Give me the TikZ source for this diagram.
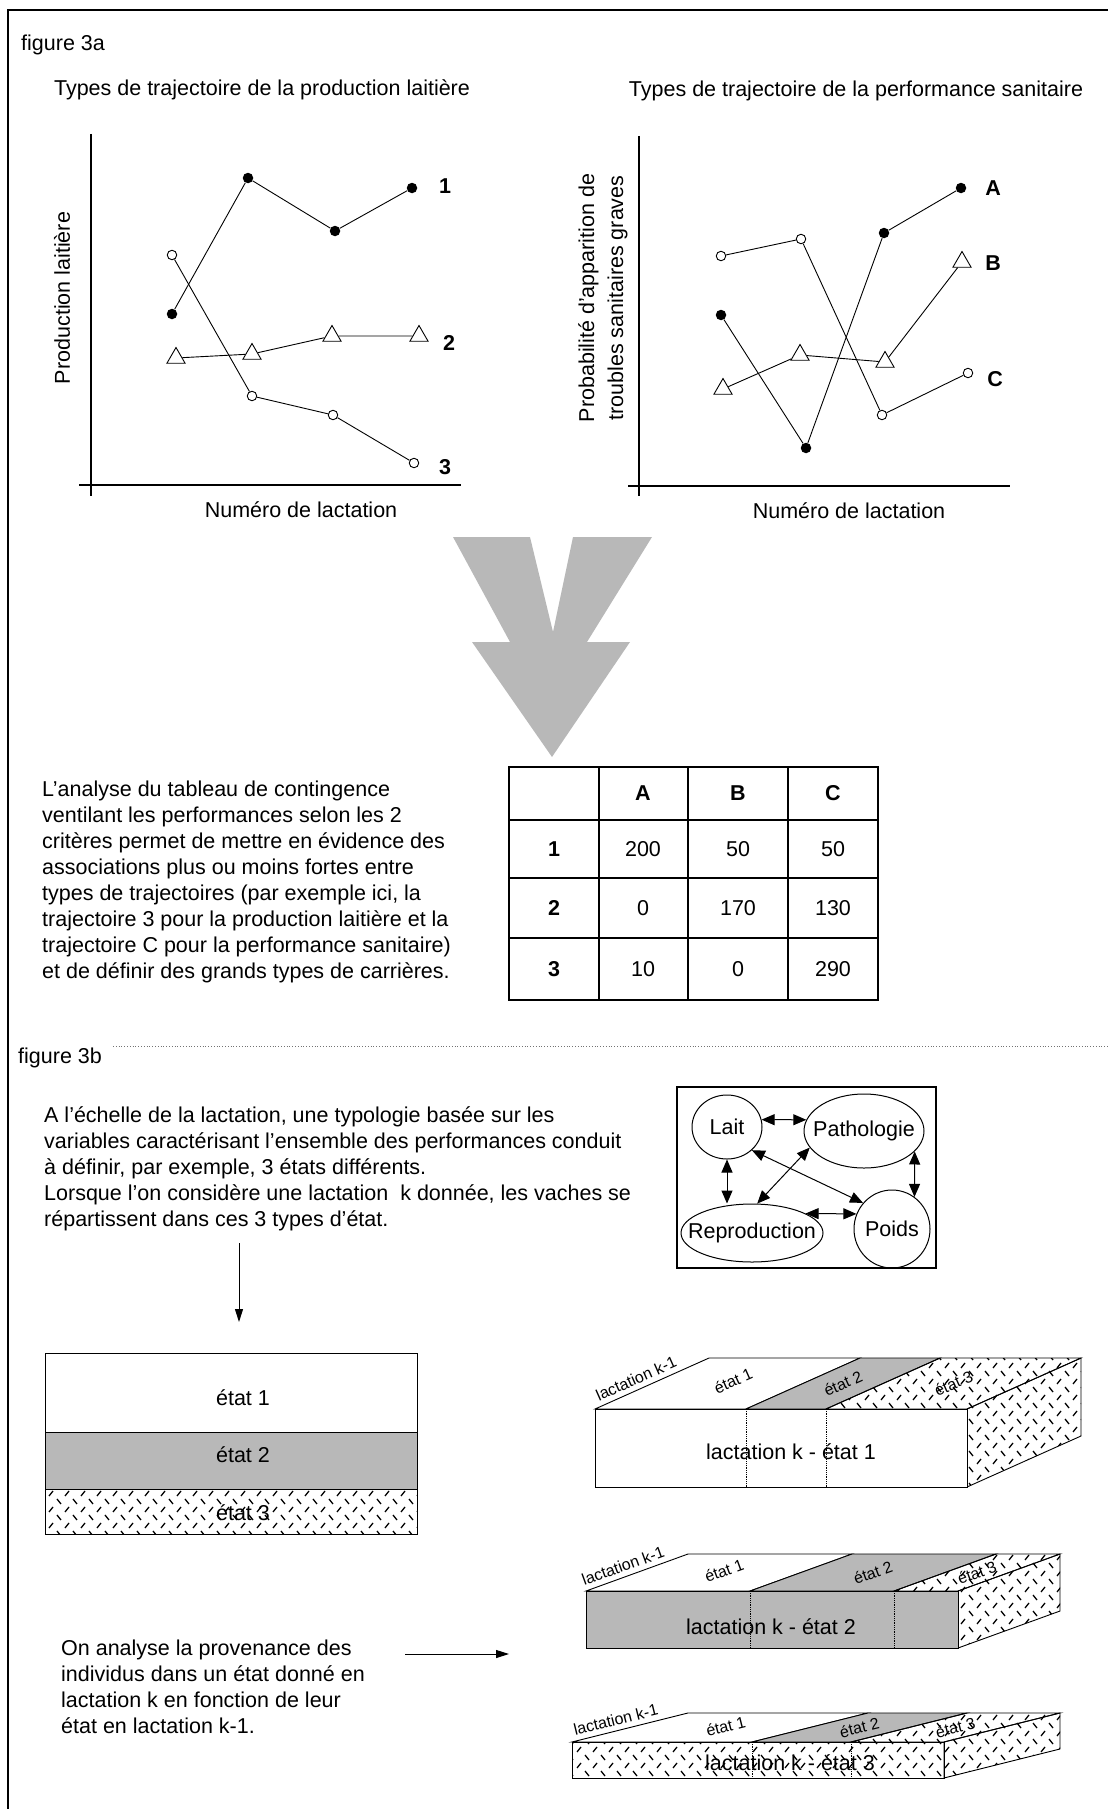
\documentclass[tikz,border=0pt]{standalone}
\usepackage{fontspec}
\setmainfont{Liberation Sans}
\usetikzlibrary{arrows.meta,shapes.geometric,patterns}
\definecolor{halftone}{gray}{0.72}
\newcommand{\bodyfont}{\fontsize{21.5}{26}\selectfont}
\newcommand{\smallfont}{\fontsize{16}{19}\selectfont}
\pgfdeclarepatternformonly{etathatch}{\pgfpoint{-1pt}{-1pt}}{\pgfpoint{17pt}{17pt}}{\pgfpoint{16pt}{16pt}}{%
  \pgfsetlinewidth{1.3pt}%
  \pgfpathmoveto{\pgfpoint{1pt}{9pt}}\pgfpathlineto{\pgfpoint{5pt}{14pt}}%
  \pgfpathmoveto{\pgfpoint{9pt}{6pt}}\pgfpathlineto{\pgfpoint{13pt}{1pt}}%
  \pgfusepath{stroke}}

\begin{document}
\begin{tikzpicture}[x=1pt,y=-1pt,font=\bodyfont,
    frame/.style={line width=1.4pt},
    axis/.style={line width=1.1pt},
    trace/.style={line width=0.9pt},
    fdot/.style={circle,fill=black,inner sep=0pt,minimum size=10.5pt},
    odot/.style={circle,draw,fill=white,line width=0.9pt,inner sep=0pt,minimum size=9.5pt},
    tri/.style={regular polygon,regular polygon sides=3,draw,fill=white,line width=0.9pt,inner sep=0pt,minimum size=21pt},
    tag/.style={font=\bodyfont\bfseries},
    para/.style={anchor=west,align=left,inner sep=0pt},
    bubble/.style={ellipse,draw,line width=1pt,inner sep=0pt},
    dbl/.style={{Triangle[length=13pt,width=11pt]}-{Triangle[length=13pt,width=11pt]},line width=1pt},
    arr/.style={-{Triangle[length=13pt,width=8pt]},line width=1pt},
    tabline/.style={line width=1.4pt},
    etat1/.style={fill=white},
    etat2/.style={fill=halftone},
    etat3/.style={pattern=etathatch},
    toplab/.style={font=\smallfont,inner sep=1pt}]
  \useasboundingbox (0,0) rectangle (1108,1809);
  \draw[frame] (8,1809) -- (8,10) -- (1108,10);

  % figure 3a
  \node[para] (fig3a) at (21,45) {figure 3a};
  \node (titlelait) at (262,90) {Types de trajectoire de la production laitière};
  \node (titlesan) at (856,91) {Types de trajectoire de la performance sanitaire};

  % milk yield trajectories
  \draw[axis] (91,134) -- (91,496);
  \draw[axis] (79,485) -- (461,485);
  \node[rotate=90] (ylait) at (62,298) {Production laitière};
  \node (xlait) at (301,510) {Numéro de lactation};
  \foreach \n/\x/\y in {la/172/314,lb/248/178,lc/335/231,ld/412/188}
    \node[fdot] (\n) at (\x,\y) {};
  \foreach \n/\x/\y in {ma/176/358,mb/252/354,mc/332/336,md/419/336}
    \node[tri] (\n) at (\x,\y) {};
  \foreach \n/\x/\y in {na/172/255,nb/252/396,nc/333/415,nd/414/463}
    \node[odot] (\n) at (\x,\y) {};
  \draw[trace] (la) -- (lb) -- (lc) -- (ld);
  \draw[trace] (ma) -- (mb) -- (mc) -- (md);
  \draw[trace] (na) -- (nb) -- (nc) -- (nd);
  \node[tag] (t1) at (445,186) {1};
  \node[tag] (t2) at (449,343) {2};
  \node[tag] (t3) at (445,467) {3};

  % health trajectories
  \draw[axis] (639,136) -- (639,496);
  \draw[axis] (628,486) -- (1010,486);
  \node[rotate=90,align=center,font=\fontsize{21.5}{29}\selectfont] (ysan) at (603,298)
    {Probabilité d'apparition de\\troubles sanitaires graves};
  \node (xsan) at (849,511) {Numéro de lactation};
  \foreach \n/\x/\y in {sa/721/315,sb/806/448,sc/884/233,sd/961/188}
    \node[fdot] (\n) at (\x,\y) {};
  \foreach \n/\x/\y in {ua/723/389,ub/800/355,uc/885/362,ud/962/262}
    \node[tri] (\n) at (\x,\y) {};
  \foreach \n/\x/\y in {va/721/256,vb/801/239,vc/882/415,vd/968/373}
    \node[odot] (\n) at (\x,\y) {};
  \draw[trace] (sa) -- (sb) -- (sc) -- (sd);
  \draw[trace] (ua) -- (ub) -- (uc) -- (ud);
  \draw[trace] (va) -- (vb) -- (vc) -- (vd);
  \node[tag] (tA) at (993,188) {A};
  \node[tag] (tB) at (993,263) {B};
  \node[tag] (tC) at (995,379) {C};

  % big arrow
  \fill[halftone] (453,537) -- (530,537) -- (553,632) -- (573,537) -- (652,537)
    -- (587,642) -- (630,642) -- (552,757) -- (472,642) -- (510,642) -- cycle;

  % contingency table
  \node[para] (para3a) at (42,882)
    {L'analyse du tableau de contingence\\
     ventilant les performances selon les 2\\
     critères permet de mettre en évidence des\\
     associations plus ou moins fortes entre\\
     types de trajectoires (par exemple ici, la\\
     trajectoire 3 pour la production laitière et la\\
     trajectoire C pour la performance sanitaire)\\
     et de définir des grands types de carrières.};
  \draw[tabline] (509,767) rectangle (878,1000);
  \foreach \x in {599,688,788}
    \draw[tabline] (\x,767) -- (\x,1000);
  \foreach \y in {820,878,938}
    \draw[tabline] (509,\y) -- (878,\y);
  \foreach \n/\x in {A/643,B/738,C/833}
    \node[tag] (h\n) at (\x,793) {\n};
  \foreach \r/\y/\a/\b/\c in {1/849/200/50/50,2/908/0/170/130,3/969/10/0/290} {
    \node[tag] (r\r) at (554,\y) {\r};
    \node (c\r A) at (643,\y) {\a};
    \node (c\r B) at (738,\y) {\b};
    \node (c\r C) at (833,\y) {\c};
  }
  \draw[dotted,line width=0.8pt,black!55] (113,1046) -- (1108,1046);

  % figure 3b
  \node[para] (fig3b) at (18,1058) {figure 3b};
  \node[para] (para3b) at (44,1169)
    {A l'échelle de la lactation, une typologie basée sur les\\
     variables caractérisant l'ensemble des performances conduit\\
     à définir, par exemple, 3 états différents.\\
     Lorsque l'on considère une lactation\ \ k donnée, les vaches se\\
     répartissent dans ces 3 types d'état.};
  \coordinate (dtail) at (239,1243);
  \coordinate (dhead) at (239,1322);
  \draw[arr] (dtail) -- (dhead);

  % variables
  \draw[line width=1.2pt] (677,1087) rectangle (936,1268);
  \node[bubble,minimum width=70,minimum height=64] (lait) at (727,1127) {\makebox[0pt]{Lait}};
  \node[bubble,minimum width=120,minimum height=74] (patho) at (864,1131) {\makebox[0pt]{Pathologie}};
  \node[bubble,minimum width=142,minimum height=58] (repro) at (752,1233) {\makebox[0pt]{Reproduction}};
  \node[bubble,minimum width=76,minimum height=78] (poids) at (892,1229) {\makebox[0pt]{Poids}};
  \draw[dbl] (lait.12) -- (patho.169);
  \draw[dbl] (lait.south) -- (lait.south |- repro.north);
  \draw[dbl] (patho.-22) -- (poids.55);
  \draw[dbl] (lait.-43) -- (poids.138);
  \draw[dbl] (patho.197) -- (repro.80);
  \draw[dbl] (repro.20) -- (poids.157);

  % states in lactation k
  \draw[etat1,line width=0.9pt] (45,1353) rectangle (417,1432);
  \draw[etat2,line width=0.9pt] (45,1432) rectangle (417,1489);
  \draw[etat3,line width=0.9pt] (45,1489) rectangle (417,1534);
  \node (s1) at (243,1398) {état 1};
  \node (s2) at (243,1455) {état 2};
  \node (s3) at (243,1513) {état 3};

  \node[para] (parak) at (61,1687)
    {On analyse la provenance des\\
     individus dans un état donné en\\
     lactation k en fonction de leur\\
     état en lactation k-1.};
  \coordinate (rtail) at (405,1654);
  \coordinate (rhead) at (509,1654);
  \draw[arr] (rtail) -- (rhead);

  % slabs lactation k-1 / lactation k
  \foreach \k/\fx/\fy/\w/\h/\dx/\dy/\ua/\ub/\ang/\lx/\ly in
      {1/595/1409/372/78/114/51/746/826/24/791/1452,
       2/586/1591/372/57/102/37/750/894/20/771/1627,
       3/572/1742/372/36/116/29/752/851/14/790/1763} {
    \draw[fill=white,line width=0.9pt] (\fx,\fy) -- (\ua,\fy) -- ++(\dx,-\dy) -- ++(\fx-\ua,0) -- cycle;
    \draw[fill=halftone,line width=0.9pt] (\ua,\fy) -- (\ub,\fy) -- ++(\dx,-\dy) -- ++(\ua-\ub,0) -- cycle;
    \draw[etat3,line width=0.9pt] (\ub,\fy) -- (\fx+\w,\fy) -- ++(\dx,-\dy) -- ++(\ub-\fx-\w,0) -- cycle;
    \draw[etat3,line width=0.9pt] (\fx+\w,\fy) -- ++(0,\h) -- ++(\dx,-\dy) -- ++(0,-\h) -- cycle;
    \draw[etat\k,line width=0.9pt] (\fx,\fy) rectangle ++(\w,\h);
    \draw[densely dotted,line width=0.8pt] (\ua,\fy) -- ++(0,\h);
    \draw[densely dotted,line width=0.8pt] (\ub,\fy) -- ++(0,\h);
    \node[toplab,rotate=\ang,anchor=south,inner sep=5pt] (prev\k) at ({\fx+0.4*\dx},{\fy-0.4*\dy}) {lactation k-1};
    \node[toplab,rotate=\ang] (top\k a) at ({(\fx+\ua)/2+0.55*\dx},{\fy-0.55*\dy}) {état 1};
    \node[toplab,rotate=\ang] (top\k b) at ({(\ua+\ub)/2+0.5*\dx},{\fy-0.5*\dy}) {état 2};
    \node[toplab,rotate=\ang] (top\k c) at ({(\ub+\fx+\w)/2+0.5*\dx},{\fy-0.5*\dy}) {état 3};
    \node (front\k) at (\lx,\ly) {lactation k - état \k};
  }
\end{tikzpicture}
\end{document}
